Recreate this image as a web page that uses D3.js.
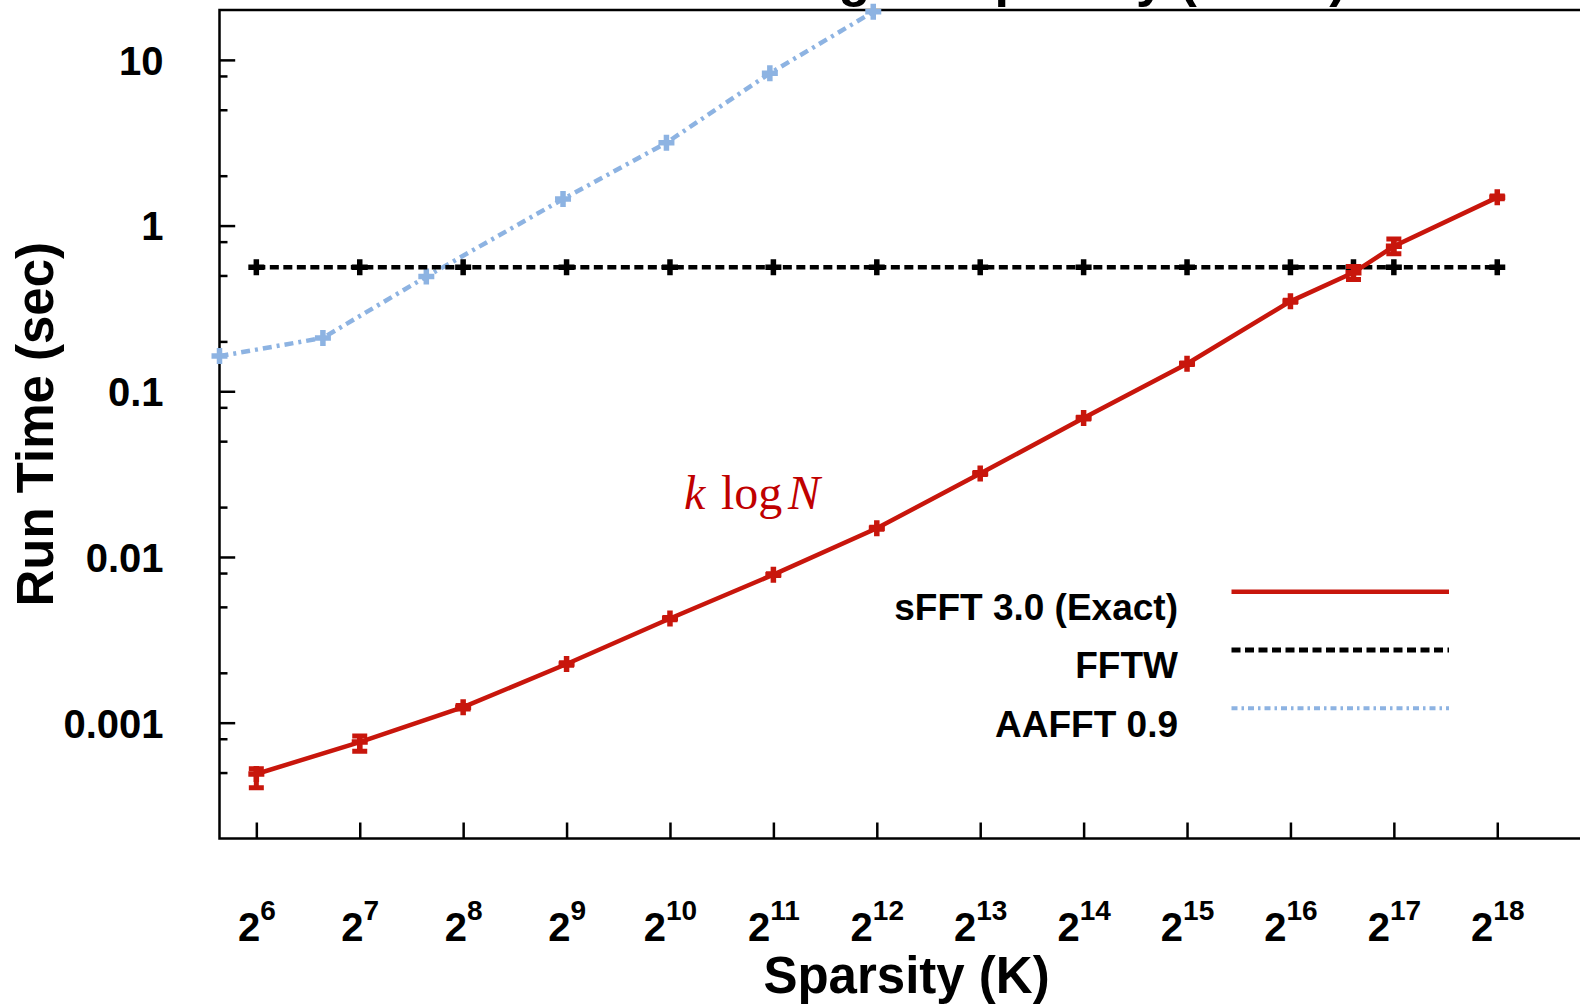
<!DOCTYPE html>
<html>
<head>
<meta charset="utf-8">
<script src="https://cdn.jsdelivr.net/npm/d3@7"></script>
<style>
  html, body { margin: 0; padding: 0; background: #fff; overflow: hidden; }
  svg { display: block; font-family: "Liberation Sans", Arial, Helvetica, sans-serif; }
</style>
</head>
<body>
<svg id="chart" width="1580" height="1006"></svg>
<script>
// Sparsity values (K) for each measured series
const sfftK = [64, 128, 256, 512, 1024, 2048, 4096, 8192, 16384, 32768, 65536, 100000, 131072, 262144];
const sfftTime = [0.00049, 0.000764, 0.00124, 0.00226, 0.00425, 0.00782, 0.0149, 0.0319, 0.0689, 0.1466, 0.349, 0.52, 0.75, 1.48];
const sfftLow  = [0.000405, 0.000672, 0.00121, 0.00222, 0.00418, 0.00772, 0.0147, 0.0315, 0.0680, 0.1450, 0.344, 0.472, 0.675, 1.45];
const sfftHigh = [0.000527, 0.000831, 0.00127, 0.00230, 0.00432, 0.00792, 0.0151, 0.0323, 0.0698, 0.1482, 0.354, 0.566, 0.831, 1.51];

const fftwK = [64, 128, 256, 512, 1024, 2048, 4096, 8192, 16384, 32768, 65536, 100000, 131072, 262144];
const fftwTime = [0.56, 0.56, 0.56, 0.56, 0.56, 0.56, 0.56, 0.56, 0.56, 0.56, 0.56, 0.56, 0.56, 0.56];

const aafftK = [50, 100, 200, 500, 1000, 2000, 4000];
const aafftTime = [0.163, 0.21, 0.492, 1.445, 3.16, 8.3, 19.5];

// Axis ticks
const xTickExponents = [6, 7, 8, 9, 10, 11, 12, 13, 14, 15, 16, 17, 18];
const yMajorTicks = [0.001, 0.01, 0.1, 1, 10];
const yMinorTicks = [0.0005, 0.0008, 0.002, 0.005, 0.008, 0.02, 0.05, 0.08, 0.2, 0.5, 0.8, 2, 5, 8];
const yTickLabels = ["0.001", "0.01", "0.1", "1", "10"];

const seriesNames = ["sFFT 3.0 (Exact)", "FFTW", "AAFFT 0.9"];

const RED = "#c8160c", BLACK = "#000000", BLUE = "#8db3e2";

const svg = d3.select("#chart");
const plot = { left: 219.5, right: 1593.6, top: 10, bottom: 838.5 };

const x = d3.scaleLog().base(2).domain([50, 500000]).range([plot.left, plot.right]);
const y = d3.scaleLog().domain([0.0002, 20]).range([plot.bottom, plot.top]);

// Title (sits mostly above the visible area)
const title = svg.append("text")
  .attr("x", (plot.left + plot.right) / 2)
  .attr("y", -4)
  .attr("text-anchor", "middle")
  .attr("font-size", 52)
  .attr("font-weight", "bold");
title.append("tspan").text("Run Time vs Signal Sparsity (N=2");
title.append("tspan").attr("dy", -20).attr("font-size", 32).text("22");
title.append("tspan").attr("dy", 20).text(")");

// Y axis: major ticks with labels, minor ticks without
const yAxis = d3.axisLeft(y)
  .tickValues(yMajorTicks)
  .tickFormat((d, i) => yTickLabels[i])
  .tickSizeInner(-15.7)
  .tickSizeOuter(0)
  .tickPadding(56);
const gy = svg.append("g").attr("transform", `translate(${plot.left},0)`).call(yAxis);
gy.select(".domain").remove();
gy.selectAll(".tick line").attr("stroke", "#000").attr("stroke-width", 2.5);
gy.selectAll(".tick text")
  .attr("font-size", 40)
  .attr("font-weight", "bold")
  .attr("fill", "#000")
  .attr("dy", "0.36em")
  .attr("font-family", "Liberation Sans, Arial, sans-serif");

const yMinor = d3.axisLeft(y).tickValues(yMinorTicks).tickFormat(() => "").tickSizeInner(-8).tickSizeOuter(0);
const gym = svg.append("g").attr("transform", `translate(${plot.left},0)`).call(yMinor);
gym.select(".domain").remove();
gym.selectAll(".tick line").attr("stroke", "#000").attr("stroke-width", 2.5);

// X axis: powers of two, ticks pointing inward
const xAxis = d3.axisBottom(x)
  .tickValues(xTickExponents.map(e => Math.pow(2, e)))
  .tickFormat(() => "")
  .tickSizeInner(-16)
  .tickSizeOuter(0);
const gx = svg.append("g").attr("transform", `translate(0,${plot.bottom})`).call(xAxis);
gx.select(".domain").remove();
gx.selectAll(".tick line").attr("stroke", "#000").attr("stroke-width", 2.5);
gx.selectAll(".tick text").each(function (d, i) {
  const t = d3.select(this)
    .attr("y", 102)
    .attr("dy", null)
    .attr("text-anchor", "middle")
    .attr("fill", "#000")
    .attr("font-weight", "bold")
    .attr("font-family", "Liberation Sans, Arial, sans-serif")
    .text(null);
  t.append("tspan").attr("font-size", 40).text("2");
  t.append("tspan").attr("font-size", 28).attr("dy", -20.5).text(xTickExponents[i]);
});

// Plot border
svg.append("rect")
  .attr("x", plot.left).attr("y", plot.top)
  .attr("width", plot.right - plot.left).attr("height", plot.bottom - plot.top)
  .attr("fill", "none").attr("stroke", "#000").attr("stroke-width", 2.5);

// Axis titles
svg.append("text")
  .attr("transform", `translate(52.5,${(plot.top + plot.bottom) / 2}) rotate(-90)`)
  .attr("text-anchor", "middle")
  .attr("font-size", 51)
  .attr("font-weight", "bold")
  .text("Run Time (sec)");

svg.append("text")
  .attr("x", (plot.left + plot.right) / 2)
  .attr("y", 993)
  .attr("text-anchor", "middle")
  .attr("font-size", 51)
  .attr("font-weight", "bold")
  .text("Sparsity (K)");

// Series
const line = d3.line().x(d => x(d[0])).y(d => y(d[1]));
const plusPath = "M-8,0H8M0,-8V8";

function drawSeries(ks, vals, color, dash, width) {
  const pts = ks.map((k, i) => [k, vals[i]]);
  svg.append("path")
    .datum(pts)
    .attr("d", line)
    .attr("fill", "none")
    .attr("stroke", color)
    .attr("stroke-width", width)
    .attr("stroke-dasharray", dash);
  svg.append("g").selectAll("path")
    .data(pts)
    .join("path")
    .attr("transform", d => `translate(${x(d[0])},${y(d[1])})`)
    .attr("d", plusPath)
    .attr("stroke", color)
    .attr("stroke-width", 5.5)
    .attr("fill", "none");
}

drawSeries(aafftK, aafftTime, BLUE, "9,5,3,5", 4.5);
drawSeries(fftwK, fftwTime, BLACK, "9,4.5", 4.5);

// sFFT error bars
const eb = svg.append("g").attr("stroke", RED).attr("stroke-width", 5).attr("fill", "none");
sfftK.forEach((k, i) => {
  const cx = x(k), y0 = y(sfftLow[i]), y1 = y(sfftHigh[i]);
  eb.append("path").attr("d", `M${cx},${y0}V${y1}M${cx - 7.5},${y0}H${cx + 7.5}M${cx - 7.5},${y1}H${cx + 7.5}`);
});
drawSeries(sfftK, sfftTime, RED, null, 4.5);

// Annotation
const ann = svg.append("text")
  .attr("y", 509)
  .attr("fill", "#c00000")
  .attr("font-size", 48)
  .attr("font-family", "Liberation Serif, 'DejaVu Serif', serif");
ann.append("tspan").attr("x", 684).attr("font-style", "italic").text("k");
ann.append("tspan").attr("x", 721).text("log");
ann.append("tspan").attr("x", 788).attr("font-style", "italic").text("N");

// Legend
const legend = svg.append("g");
const legendStyles = [
  { color: RED, dash: null, width: 4.5 },
  { color: BLACK, dash: "9,4.5", width: 5 },
  { color: BLUE, dash: "6,4,2.5,4", width: 4 }
];
seriesNames.forEach((name, i) => {
  const rowY = 620 + i * 58.3;
  legend.append("text")
    .attr("x", 1178).attr("y", rowY)
    .attr("text-anchor", "end")
    .attr("font-size", 37)
    .attr("font-weight", "bold")
    .text(name);
  legend.append("line")
    .attr("x1", 1231.5).attr("x2", 1449)
    .attr("y1", rowY - 28.3).attr("y2", rowY - 28.3)
    .attr("stroke", legendStyles[i].color)
    .attr("stroke-width", legendStyles[i].width)
    .attr("stroke-dasharray", legendStyles[i].dash);
});
</script>
</body>
</html>
